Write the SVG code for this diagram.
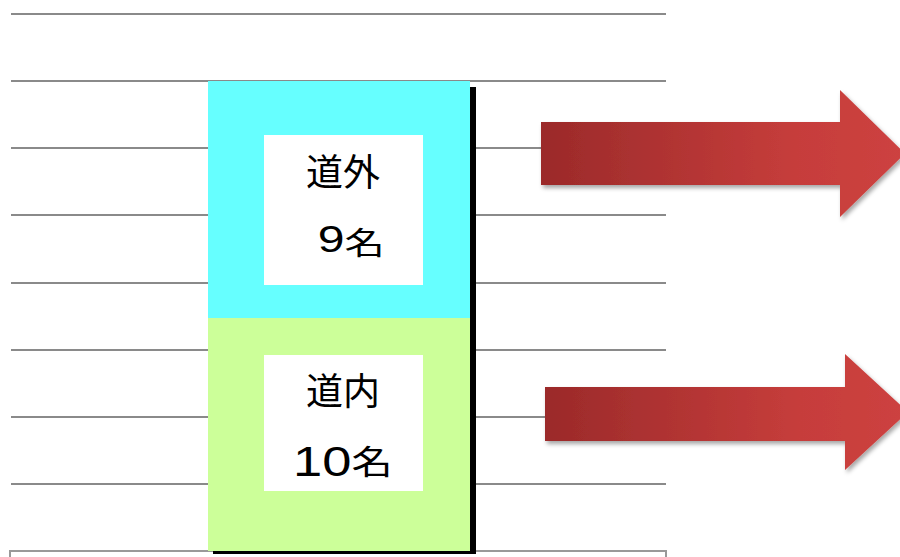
<svg xmlns="http://www.w3.org/2000/svg" width="900" height="557" viewBox="0 0 900 557">
<style>
.rule{stroke:#8a8a8a;stroke-width:2;fill:none}
.lbl{font-family:"Liberation Sans","Noto Sans CJK JP",sans-serif;font-size:37px;fill:#000;text-anchor:middle}
.num{font-family:"Liberation Sans","Noto Sans CJK JP",sans-serif;fill:#000}
.arrow{fill:url(#red);filter:url(#sh)}
</style>
<defs>
<linearGradient id="red" x1="0" y1="0" x2="1" y2="0">
<stop offset="0" stop-color="#9b2a2a"/>
<stop offset="0.7" stop-color="#c63d3b"/>
<stop offset="1" stop-color="#cd4240"/>
</linearGradient>
<filter id="sh" x="-10%" y="-20%" width="130%" height="150%">
<feDropShadow dx="2" dy="3" stdDeviation="2" flood-color="#000" flood-opacity="0.35"/>
</filter>
</defs>
<rect width="900" height="557" fill="#fff"/>
<g id="grid">
<line class="rule" x1="11" y1="14" x2="666" y2="14"/>
<line class="rule" x1="11" y1="81" x2="666" y2="81"/>
<line class="rule" x1="11" y1="148" x2="666" y2="148"/>
<line class="rule" x1="11" y1="215" x2="666" y2="215"/>
<line class="rule" x1="11" y1="283" x2="666" y2="283"/>
<line class="rule" x1="11" y1="350" x2="666" y2="350"/>
<line class="rule" x1="11" y1="417" x2="666" y2="417"/>
<line class="rule" x1="11" y1="484" x2="666" y2="484"/>
<rect x="10" y="551" width="656" height="20" fill="none" stroke="#999" stroke-width="2"/>
</g>
<g id="column">
<rect x="213" y="87" width="263" height="467" fill="#000"/>
</g>
<g id="outside">
<rect x="208" y="81" width="262" height="237" fill="#66ffff"/>
<rect x="264" y="135" width="159" height="150" fill="#fff"/>
<text class="lbl" x="343" y="186">道外</text>
<text class="num" transform="translate(317.8,252) scale(1.3,1)" x="0" y="0"><tspan font-size="37">9</tspan><tspan font-size="31" dy="2">名</tspan></text>
</g>
<g id="inside">
<rect x="208" y="318" width="262" height="233" fill="#ccff99"/>
<rect x="264" y="355" width="159" height="136" fill="#fff"/>
<text class="lbl" x="343" y="405">道内</text>
<text class="num" transform="translate(293,475.5) scale(1.25,1)" x="0" y="0"><tspan font-size="42">10</tspan><tspan font-size="33" dy="-1.5">名</tspan></text>
</g>
<g id="connectors">
<polygon class="arrow" points="541,122 840,122 840,90 905,153.5 840,217 840,185 541,185"/>
<polygon class="arrow" points="545,387 845,387 845,354 908,412 845,470 845,441 545,441"/>
</g>
</svg>
